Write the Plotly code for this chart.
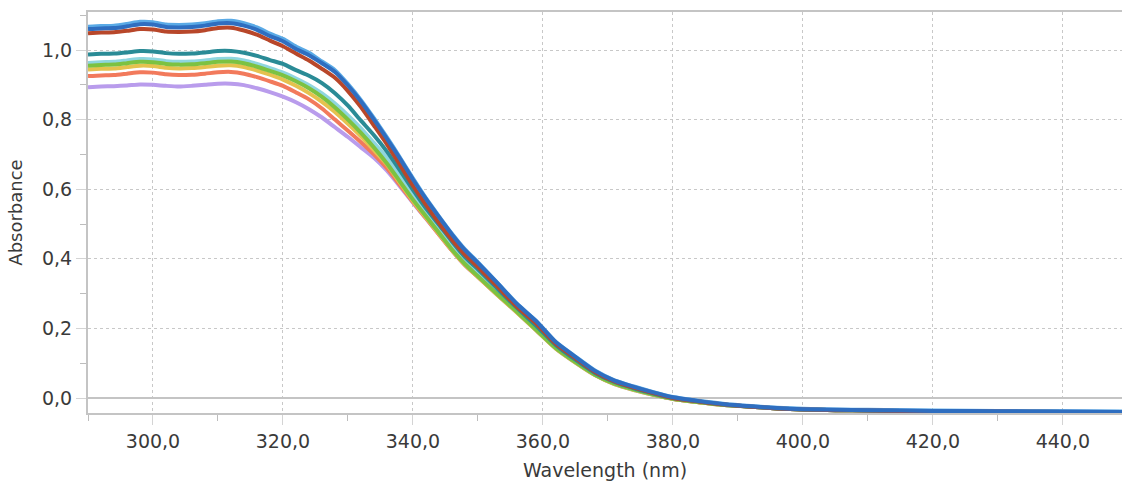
import plotly.graph_objects as go

# Wavelength grid (nm)
wavelength = [290, 292, 294, 296, 298, 300, 302, 304, 306, 308, 310, 312, 314, 316, 318, 320,
              322, 324, 326, 328, 330, 332, 334, 336, 338, 340, 342, 344, 346, 348, 350,
              353, 356, 359, 362, 365, 368, 371, 374, 377, 380,
              384, 388, 392, 396, 400, 405, 410, 420, 430, 440, 450]

abs_lavender = [0.893, 0.895, 0.896, 0.898, 0.901, 0.900, 0.897, 0.895, 0.897, 0.900, 0.903, 0.903, 0.899, 0.890, 0.879, 0.866,
                0.850, 0.830, 0.806, 0.778, 0.750, 0.720, 0.690, 0.653, 0.608, 0.561, 0.516, 0.470, 0.424, 0.382, 0.348,
                0.296, 0.246, 0.194, 0.142, 0.102, 0.066, 0.040, 0.023, 0.009, -0.003,
                -0.012, -0.020, -0.025, -0.030, -0.033, -0.035, -0.036, -0.038, -0.039, -0.040, -0.041]

abs_salmon = [0.925, 0.927, 0.928, 0.932, 0.936, 0.935, 0.930, 0.928, 0.929, 0.932, 0.936, 0.937, 0.932, 0.922, 0.910, 0.897,
              0.878, 0.858, 0.832, 0.800, 0.768, 0.735, 0.700, 0.660, 0.612, 0.563, 0.517, 0.470, 0.424, 0.382, 0.348,
              0.297, 0.247, 0.195, 0.143, 0.103, 0.067, 0.041, 0.024, 0.010, -0.002,
              -0.012, -0.020, -0.025, -0.030, -0.033, -0.035, -0.036, -0.038, -0.039, -0.040, -0.041]

abs_yellow = [0.944, 0.946, 0.947, 0.951, 0.955, 0.954, 0.949, 0.947, 0.948, 0.951, 0.955, 0.956, 0.951, 0.941, 0.929, 0.915,
              0.897, 0.876, 0.851, 0.822, 0.788, 0.752, 0.712, 0.671, 0.618, 0.566, 0.519, 0.472, 0.425, 0.383, 0.348,
              0.296, 0.246, 0.194, 0.142, 0.102, 0.066, 0.040, 0.023, 0.009, -0.003,
              -0.012, -0.020, -0.025, -0.030, -0.033, -0.035, -0.036, -0.038, -0.039, -0.040, -0.041]

abs_cyan = [0.963, 0.965, 0.966, 0.970, 0.974, 0.973, 0.968, 0.966, 0.967, 0.970, 0.974, 0.975, 0.970, 0.960, 0.948, 0.935,
            0.918, 0.899, 0.875, 0.846, 0.812, 0.775, 0.733, 0.690, 0.636, 0.582, 0.532, 0.484, 0.436, 0.393, 0.357,
            0.304, 0.252, 0.199, 0.146, 0.105, 0.069, 0.043, 0.025, 0.011, -0.001,
            -0.011, -0.020, -0.025, -0.030, -0.033, -0.035, -0.036, -0.038, -0.039, -0.040, -0.041]

abs_green = [0.955, 0.957, 0.958, 0.962, 0.966, 0.965, 0.960, 0.958, 0.959, 0.962, 0.966, 0.967, 0.962, 0.952, 0.940, 0.927,
             0.910, 0.890, 0.865, 0.835, 0.800, 0.762, 0.720, 0.674, 0.622, 0.570, 0.522, 0.475, 0.427, 0.385, 0.350,
             0.298, 0.248, 0.195, 0.143, 0.103, 0.067, 0.041, 0.024, 0.010, -0.002,
             -0.012, -0.020, -0.025, -0.030, -0.033, -0.035, -0.036, -0.038, -0.039, -0.040, -0.041]

abs_teal = [0.987, 0.989, 0.990, 0.993, 0.997, 0.996, 0.991, 0.989, 0.990, 0.993, 0.997, 0.997, 0.992, 0.983, 0.971, 0.960,
            0.942, 0.926, 0.905, 0.876, 0.840, 0.797, 0.755, 0.708, 0.654, 0.598, 0.545, 0.498, 0.450, 0.405, 0.370,
            0.314, 0.259, 0.207, 0.152, 0.110, 0.072, 0.046, 0.028, 0.013, 0.000,
            -0.010, -0.019, -0.025, -0.030, -0.033, -0.035, -0.036, -0.038, -0.039, -0.040, -0.041]

abs_skyblue = [1.067, 1.069, 1.070, 1.075, 1.081, 1.080, 1.073, 1.072, 1.073, 1.077, 1.083, 1.084, 1.077, 1.065, 1.047, 1.032,
               1.010, 0.992, 0.967, 0.942, 0.902, 0.856, 0.804, 0.749, 0.691, 0.631, 0.574, 0.522, 0.472, 0.427, 0.390,
               0.331, 0.271, 0.221, 0.161, 0.119, 0.079, 0.051, 0.033, 0.017, 0.003,
               -0.008, -0.017, -0.023, -0.028, -0.031, -0.033, -0.034, -0.036, -0.037, -0.038, -0.039]

abs_darkred = [1.048, 1.050, 1.051, 1.055, 1.060, 1.059, 1.053, 1.052, 1.053, 1.057, 1.063, 1.064, 1.056, 1.044, 1.027, 1.011,
               0.990, 0.970, 0.946, 0.920, 0.882, 0.836, 0.783, 0.729, 0.670, 0.610, 0.555, 0.503, 0.455, 0.412, 0.376,
               0.320, 0.262, 0.213, 0.155, 0.114, 0.075, 0.048, 0.030, 0.014, 0.000,
               -0.010, -0.019, -0.025, -0.030, -0.033, -0.035, -0.036, -0.038, -0.039, -0.040, -0.041]

abs_blue = [1.060, 1.062, 1.063, 1.068, 1.074, 1.073, 1.066, 1.065, 1.066, 1.070, 1.076, 1.077, 1.070, 1.058, 1.040, 1.025,
            1.003, 0.985, 0.962, 0.937, 0.898, 0.852, 0.800, 0.745, 0.688, 0.628, 0.572, 0.520, 0.470, 0.425, 0.388,
            0.330, 0.270, 0.220, 0.160, 0.118, 0.078, 0.050, 0.032, 0.016, 0.002,
            -0.009, -0.018, -0.024, -0.029, -0.032, -0.034, -0.035, -0.037, -0.038, -0.039, -0.040]

series = [
    ("lavender", abs_lavender, "#b99cec"),
    ("salmon", abs_salmon, "#f27a5c"),
    ("yellow", abs_yellow, "#e5c24e"),
    ("cyan", abs_cyan, "#8fd6df"),
    ("green", abs_green, "#7cc242"),
    ("teal", abs_teal, "#2a8b96"),
    ("skyblue", abs_skyblue, "#5aaae6"),
    ("darkred", abs_darkred, "#b8472a"),
    ("blue", abs_blue, "#2f6ec0"),
]

fig = go.Figure()
for name, vals, color in series:
    fig.add_trace(go.Scatter(x=wavelength, y=vals, mode="lines", name=name,
                             line=dict(color=color, width=4, shape="spline", smoothing=0.6),
                             showlegend=False))

tick_font = dict(family="DejaVu Sans", size=19, color="#3a3a3a")
grid = "#c8c8c8"
axis_line = "#c4c4c4"

fig.update_layout(
    width=1122, height=486,
    margin=dict(l=88, r=0, t=12, b=73),
    paper_bgcolor="white", plot_bgcolor="white",
    separators=", ",
    font=dict(family="DejaVu Sans", color="#3a3a3a"),
)

fig.update_xaxes(
    range=[290, 449.1], tick0=300, dtick=20, tickformat=".1f",
    tickfont=tick_font,
    showgrid=True, gridcolor=grid, griddash="dot", gridwidth=1,
    showline=True, linecolor=axis_line, linewidth=2, mirror=True,
    ticks="outside", ticklen=10, tickcolor="#d4d4d4", tickwidth=1,
    minor=dict(ticks="outside", ticklen=6, tickcolor="#bdbdbd", dtick=10, tick0=300, showgrid=False),
    zeroline=False,
    title=dict(text="Wavelength (nm)", font=dict(family="DejaVu Sans", size=19, color="#3a3a3a"), standoff=13),
)

fig.update_yaxes(
    range=[-0.0431, 1.1092], tick0=0, dtick=0.2, tickformat=".1f",
    tickfont=tick_font,
    showgrid=True, gridcolor=grid, griddash="dot", gridwidth=1,
    showline=True, linecolor=axis_line, linewidth=2, mirror=False,
    ticks="outside", ticklen=10, tickcolor="#d4d4d4", tickwidth=1,
    minor=dict(ticks="outside", ticklen=6, tickcolor="#bdbdbd", dtick=0.1, tick0=0, showgrid=False),
    zeroline=True, zerolinecolor=axis_line, zerolinewidth=2,
    title=dict(text="Absorbance", font=dict(family="DejaVu Sans", size=18, color="#3a3a3a"), standoff=15),
)

fig.write_html("out.html")
